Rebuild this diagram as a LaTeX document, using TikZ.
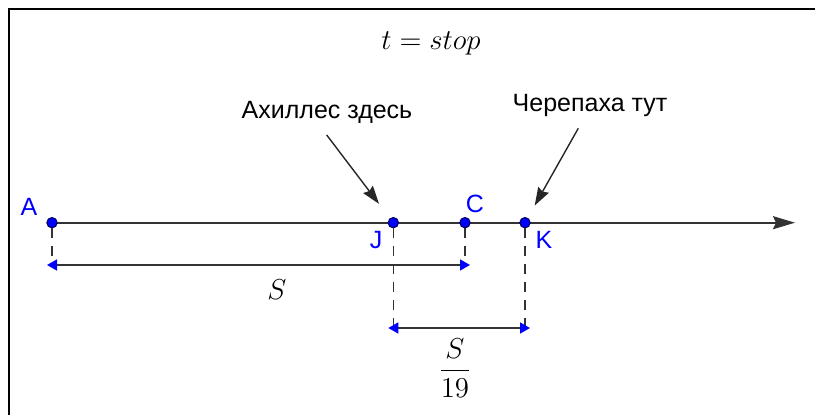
\documentclass[tikz,border=0pt]{standalone}
\usepackage{fontspec}
\setsansfont{Liberation Sans}
\usepackage{tikz}
\usetikzlibrary{arrows.meta, positioning, backgrounds}
\tikzset{
  pnt/.style={
    circle, draw=blue!35!black, fill=blue, inner sep=0pt,
    minimum size=5.2pt, line width=0.5pt
  },
  ptlabel/.style={
    text=blue, font=\fontsize{12.5}{15}\selectfont\sffamily, inner sep=0pt
  },
  note/.style={
    font=\fontsize{12.5}{15}\selectfont\sffamily, inner sep=0pt
  },
  mathlabel/.style={
    font=\fontsize{15.5}{18}\selectfont, inner sep=0pt
  },
  axisline/.style={-{Stealth[length=11pt, width=6.5pt, inset=1.5pt]}, line width=0.9pt, draw=black!80},
  pointer/.style={-{Stealth[length=9pt, width=6pt, inset=1pt]}, line width=0.7pt, draw=black!85},
  guide/.style={dash pattern=on 5pt off 4pt, line width=0.7pt, draw=black!80},
  dimline/.style={{Triangle[length=5pt, width=5.5pt, color=blue]}-{Triangle[length=5pt, width=5.5pt, color=blue]},
    shorten <=-2.5pt, shorten >=-2.5pt, line width=0.8pt, draw=black!80},
  frame/.style={line width=1.3pt, draw=black},
}

\begin{document}
\begin{tikzpicture}[x=0.5pt, y=-0.5pt]
    \useasboundingbox (0,0) rectangle (815,415);
    \draw[frame] (9,415) |- (815,9);

    % points on the line
    \node[pnt] (A) at (52,222.7) {};
    \node[pnt] (J) at (393.3,222.7) {};
    \node[pnt] (C) at (465,222.7) {};
    \node[pnt] (K) at (525,222.7) {};
    \coordinate (axisend) at (795,222.7);

    \node[ptlabel] (Alabel) at (29,207) {A};
    \node[ptlabel] (Jlabel) at (376,240) {J};
    \node[ptlabel] (Clabel) at (475,204) {C};
    \node[ptlabel] (Klabel) at (544,240) {K};

    % feet of the dimension lines
    \coordinate (A1) at (52,265);
    \coordinate (C1) at (465,265);
    \coordinate (J1) at (393.3,328);
    \coordinate (K1) at (525,328);

    \node[mathlabel] (title) at (431,43) {$t = stop$};
    \node[mathlabel] (slabel) at (277,290) {$S$};
    \node[mathlabel] (fraclabel) at (455,368) {$\displaystyle\frac{S}{19}$};

    \node[note] (achilles) at (327,112) {Ахиллес здесь};
    \node[note] (turtle) at (590,106) {Черепаха тут};
    \coordinate (achtail) at (326.7,135);
    \coordinate (turtail) at (578.3,128.3);

    \begin{scope}[on background layer]
      \draw[axisline] (A.center) -- (axisend);
    \end{scope}
    \draw[guide] (A) -- (A1);
    \draw[guide] (C) -- (C1);
    \draw[guide] (J) -- (J1);
    \draw[guide] (K) -- (K1);
    \draw[dimline] (A1) -- (C1);
    \draw[dimline] (J1) -- (K1);
    \draw[pointer, shorten >=9pt] (achtail) -- (J);
    \draw[pointer, shorten >=7pt] (turtail) -- (K);
  \end{tikzpicture}
\end{document}
